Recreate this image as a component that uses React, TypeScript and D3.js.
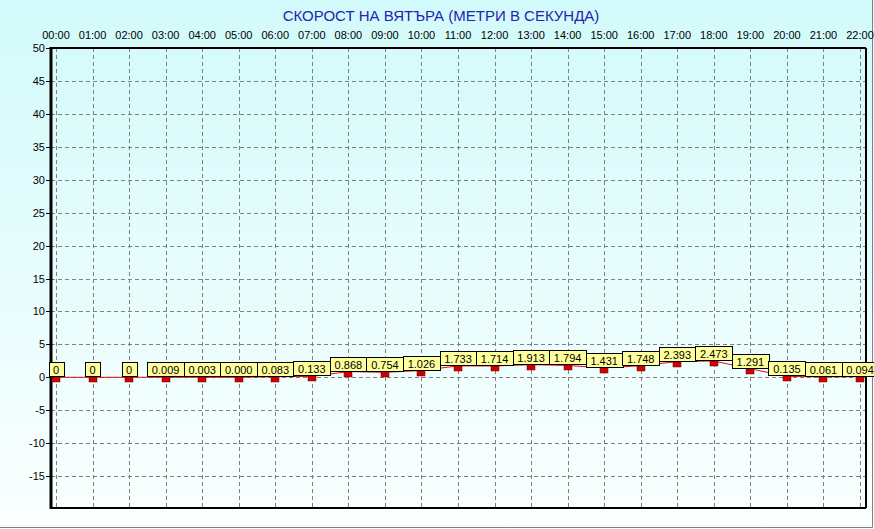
import { useEffect, useRef } from "react";
import * as d3 from "d3";

const hours = [
  "00:00", "01:00", "02:00", "03:00", "04:00", "05:00", "06:00", "07:00",
  "08:00", "09:00", "10:00", "11:00", "12:00", "13:00", "14:00", "15:00",
  "16:00", "17:00", "18:00", "19:00", "20:00", "21:00", "22:00",
];

const windSpeed = [
  0, 0, 0, 0.009, 0.003, 0.0, 0.083, 0.133, 0.868, 0.754, 1.026, 1.733,
  1.714, 1.913, 1.794, 1.431, 1.748, 2.393, 2.473, 1.291, 0.135, 0.061, 0.094,
];

const valueLabels = [
  "0", "0", "0", "0.009", "0.003", "0.000", "0.083", "0.133", "0.868",
  "0.754", "1.026", "1.733", "1.714", "1.913", "1.794", "1.431", "1.748",
  "2.393", "2.473", "1.291", "0.135", "0.061", "0.094",
];

const yTicks = [50, 45, 40, 35, 30, 25, 20, 15, 10, 5, 0, -5, -10, -15];

const title = "СКОРОСТ НА ВЯТЪРА (МЕТРИ В СЕКУНДА)";

export default function App() {
  const svgRef = useRef<SVGSVGElement>(null);
  const width = 874;
  const height = 529;

  useEffect(() => {
    if (!svgRef.current) return;
    const svg = d3.select(svgRef.current);
    svg.selectAll("*").remove();

    const font = "'Liberation Sans', Arial, sans-serif";
    const frame = { left: 51, right: 866, top: 48, bottom: 508 };

    const x = d3.scaleLinear().domain([0, 22]).range([56, 860]);
    const y = d3.scaleLinear().domain([-20, 50]).range([509, 48]);

    const defs = svg.append("defs");
    const grad = defs
      .append("linearGradient")
      .attr("id", "bg")
      .attr("x1", 0)
      .attr("y1", 0)
      .attr("x2", 0)
      .attr("y2", 1);
    grad.append("stop").attr("offset", "0%").attr("stop-color", "#d2fafa");
    grad.append("stop").attr("offset", "100%").attr("stop-color", "#fbffff");

    svg
      .append("rect")
      .attr("width", width)
      .attr("height", height)
      .attr("fill", "url(#bg)");

    // window edge
    svg
      .append("path")
      .attr("d", `M${width - 1.5},0V${height - 1.5}H0`)
      .attr("fill", "none")
      .attr("stroke", "#808080")
      .attr("stroke-width", 1);

    // title
    svg
      .append("text")
      .attr("x", 441)
      .attr("y", 21)
      .attr("text-anchor", "middle")
      .attr("fill", "#2323b4")
      .style("font-family", font)
      .style("font-size", "15px")
      .text(title);

    // grid
    const grid = svg.append("g").attr("stroke", "#808080").attr("stroke-dasharray", "4,3");
    hours.forEach((_, i) => {
      grid
        .append("line")
        .attr("x1", Math.round(x(i)) + 0.5)
        .attr("x2", Math.round(x(i)) + 0.5)
        .attr("y1", frame.top)
        .attr("y2", frame.bottom);
    });
    yTicks.forEach((t) => {
      grid
        .append("line")
        .attr("x1", frame.left)
        .attr("x2", frame.right)
        .attr("y1", Math.round(y(t)) + 0.5)
        .attr("y2", Math.round(y(t)) + 0.5);
    });

    // frame
    svg
      .append("line")
      .attr("x1", frame.left)
      .attr("x2", frame.right)
      .attr("y1", frame.top)
      .attr("y2", frame.top)
      .attr("stroke", "#000")
      .attr("stroke-width", 2);
    svg
      .append("line")
      .attr("x1", frame.left)
      .attr("x2", frame.right)
      .attr("y1", frame.bottom)
      .attr("y2", frame.bottom)
      .attr("stroke", "#000")
      .attr("stroke-width", 2);
    svg
      .append("line")
      .attr("x1", frame.right)
      .attr("x2", frame.right)
      .attr("y1", frame.top)
      .attr("y2", frame.bottom)
      .attr("stroke", "#000")
      .attr("stroke-width", 2);
    svg
      .append("line")
      .attr("x1", frame.left)
      .attr("x2", frame.left)
      .attr("y1", frame.top - 1)
      .attr("y2", frame.bottom + 1)
      .attr("stroke", "#000")
      .attr("stroke-width", 3);

    // x labels on top
    svg
      .append("g")
      .selectAll("text")
      .data(hours)
      .join("text")
      .attr("x", (_, i) => x(i))
      .attr("y", 39)
      .attr("text-anchor", "middle")
      .attr("fill", "#000")
      .style("font-family", font)
      .style("font-size", "11px")
      .text((d) => d);

    // y ticks and labels
    const yAxis = svg.append("g");
    yTicks.forEach((t) => {
      const yy = Math.round(y(t)) + 0.5;
      yAxis
        .append("line")
        .attr("x1", frame.left - 5)
        .attr("x2", frame.left)
        .attr("y1", yy)
        .attr("y2", yy)
        .attr("stroke", "#000");
      yAxis
        .append("text")
        .attr("x", 45)
        .attr("y", yy)
        .attr("dy", "0.36em")
        .attr("text-anchor", "end")
        .attr("fill", "#000")
        .style("font-family", font)
        .style("font-size", "11px")
        .text(t);
    });

    // data line
    const line = d3
      .line<number>()
      .x((_, i) => x(i))
      .y((d) => y(d));
    svg
      .append("path")
      .datum(windSpeed)
      .attr("fill", "none")
      .attr("stroke", "#e01010")
      .attr("stroke-width", 1)
      .attr("d", line);

    // markers
    svg
      .append("g")
      .selectAll("rect")
      .data(windSpeed)
      .join("rect")
      .attr("x", (_, i) => Math.round(x(i)) - 4)
      .attr("y", (d) => Math.round(y(d)))
      .attr("width", 8)
      .attr("height", 5)
      .attr("fill", "#d00000")
      .attr("stroke", "#7a0000")
      .attr("stroke-width", 0.5);

    // value labels
    const labels = svg.append("g");
    windSpeed.forEach((v, i) => {
      const g = labels.append("g");
      const box = g.append("rect");
      const txt = g
        .append("text")
        .attr("x", x(i))
        .attr("y", Math.round(y(v)) - 3.5)
        .attr("text-anchor", "middle")
        .attr("fill", "#000")
        .style("font-family", font)
        .style("font-size", "11px")
        .text(valueLabels[i]);
      const tw = (txt.node() as SVGTextElement).getComputedTextLength();
      const bw = Math.round(tw + 9);
      box
        .attr("x", Math.round(x(i) - bw / 2) + 0.5)
        .attr("y", Math.round(y(v)) - 14.5)
        .attr("width", bw)
        .attr("height", 14)
        .attr("fill", "#ffff9c")
        .attr("stroke", "#000")
        .attr("stroke-width", 1);
    });
  }, []);

  return (
    <svg
      ref={svgRef}
      width={width}
      height={height}
      style={{ position: "absolute", left: 0, top: 0 }}
    />
  );
}
